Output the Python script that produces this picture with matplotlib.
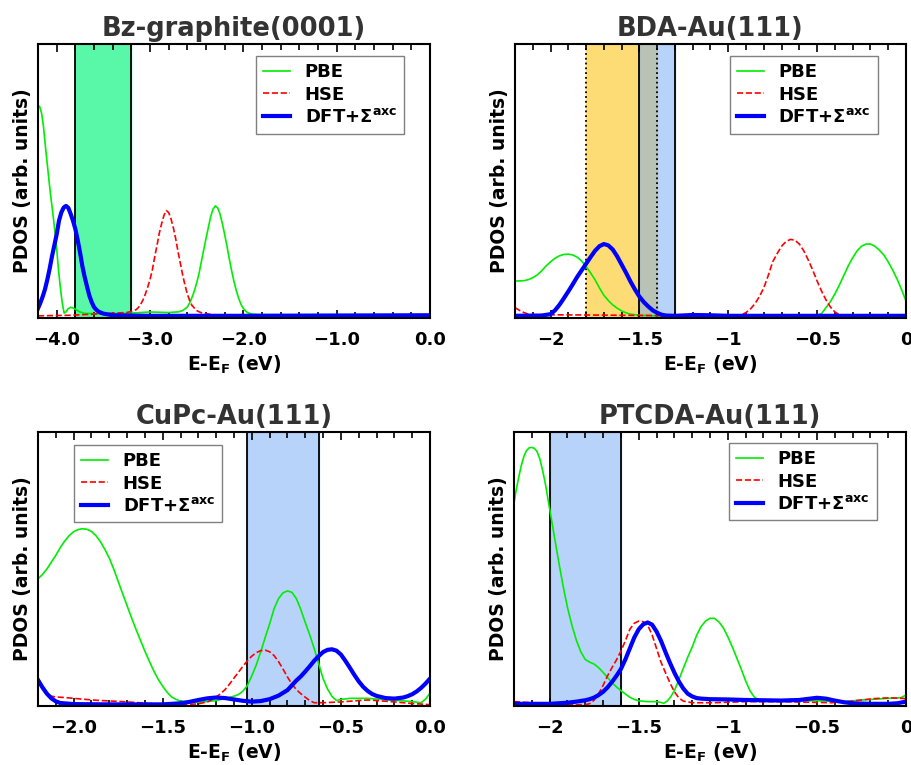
import numpy as np
import matplotlib.pyplot as plt
from matplotlib.ticker import MultipleLocator

plt.rcParams['font.family'] = 'DejaVu Sans'
plt.rcParams['font.weight'] = 'bold'
plt.rcParams['mathtext.default'] = 'bf'

# Bz-graphite(0001)
bz_pbe_x = [-4.2, -4.18, -4.16, -4.14, -4.12, -4.10, -4.08, -4.06, -4.04, -4.02, -4.0, -3.98, -3.96, -3.94,
            -3.92, -3.90, -3.88, -3.85, -3.82, -3.79, -3.75, -3.7, -3.5, -3.2, -3.0, -2.8, -2.72,
            -2.70, -2.65, -2.60, -2.575, -2.55, -2.525, -2.50, -2.475, -2.45, -2.425, -2.40, -2.375, -2.35,
            -2.325, -2.30, -2.275, -2.25, -2.225, -2.20, -2.175, -2.15, -2.125, -2.10, -2.075, -2.05,
            -2.025, -2.00, -1.975, -1.95, -1.90, -1.80, 0.0]
bz_pbe_y = [0.777, 0.77, 0.745, 0.695, 0.625, 0.56, 0.495, 0.435, 0.38, 0.32, 0.255, 0.175, 0.11, 0.055,
            0.018, 0.022, 0.033, 0.039, 0.036, 0.03, 0.022, 0.017, 0.015, 0.018, 0.022, 0.02, 0.022,
            0.022, 0.027, 0.040, 0.055, 0.075, 0.098, 0.128, 0.162, 0.205, 0.248, 0.29, 0.33, 0.37,
            0.397, 0.409, 0.402, 0.38, 0.345, 0.305, 0.262, 0.215, 0.172, 0.133, 0.10, 0.072,
            0.05, 0.035, 0.025, 0.019, 0.014, 0.012, 0.012]
bz_hse_x = [-4.2, -3.85, -3.5, -3.25, -3.2, -3.15, -3.125, -3.10, -3.075, -3.05, -3.025, -3.0, -2.975,
            -2.95, -2.925, -2.90, -2.875, -2.85, -2.825, -2.80, -2.775, -2.75, -2.725, -2.70, -2.675,
            -2.65, -2.625, -2.60, -2.575, -2.55, -2.50, -2.45, -2.35, -2.25, 0.0]
bz_hse_y = [0.008, 0.01, 0.016, 0.02, 0.024, 0.03, 0.038, 0.05, 0.066, 0.087, 0.112, 0.14, 0.175,
            0.222, 0.265, 0.31, 0.345, 0.375, 0.392, 0.385, 0.362, 0.33, 0.29, 0.243, 0.2,
            0.157, 0.12, 0.088, 0.064, 0.046, 0.027, 0.019, 0.013, 0.009, 0.007]
bz_axc_x = [-4.2, -4.175, -4.15, -4.125, -4.10, -4.075, -4.05, -4.025, -4.0, -3.975, -3.95, -3.925, -3.90,
            -3.875, -3.85, -3.825, -3.80, -3.775, -3.75, -3.725, -3.70, -3.675, -3.65, -3.625, -3.60,
            -3.575, -3.55, -3.50, -3.40, -3.0, -2.0, 0.0]
bz_axc_y = [0.035, 0.055, 0.078, 0.105, 0.14, 0.18, 0.225, 0.265, 0.305, 0.355, 0.385, 0.403, 0.409,
            0.402, 0.38, 0.355, 0.325, 0.285, 0.24, 0.19, 0.15, 0.115, 0.082, 0.058, 0.04,
            0.03, 0.023, 0.016, 0.01, 0.008, 0.008, 0.01]

# BDA-Au(111)
bda_pbe_x = [-2.2, -2.15, -2.125, -2.10, -2.075, -2.05, -2.025, -2.0, -1.975, -1.95, -1.925, -1.90, -1.875,
             -1.85, -1.825, -1.80, -1.775, -1.75, -1.725, -1.70, -1.675, -1.65, -1.625, -1.60, -1.575,
             -1.55, -1.50, -1.4, -0.6, -0.5, -0.475, -0.45, -0.425, -0.40, -0.375, -0.35, -0.325, -0.30,
             -0.275, -0.25, -0.225, -0.20, -0.175, -0.15, -0.125, -0.10, -0.075, -0.05, -0.025, 0.0]
bda_pbe_y = [0.135, 0.136, 0.14, 0.147, 0.157, 0.172, 0.19, 0.205, 0.218, 0.227, 0.232, 0.233, 0.23,
             0.222, 0.208, 0.188, 0.165, 0.14, 0.11, 0.083, 0.064, 0.048, 0.036, 0.026, 0.019,
             0.014, 0.01, 0.008, 0.008, 0.01, 0.016, 0.038, 0.06, 0.088, 0.12, 0.155, 0.19, 0.22,
             0.245, 0.262, 0.27, 0.27, 0.262, 0.248, 0.23, 0.205, 0.175, 0.142, 0.104, 0.062]
bda_hse_x = [-2.2, -2.175, -2.15, -2.125, -2.1, -1.8, -1.4, -0.95, -0.925, -0.90, -0.875, -0.85, -0.825,
             -0.80, -0.775, -0.75, -0.725, -0.70, -0.675, -0.65, -0.625, -0.60, -0.575, -0.55, -0.525,
             -0.50, -0.475, -0.45, -0.425, -0.40, -0.375, -0.35, 0.0]
bda_hse_y = [0.038, 0.028, 0.02, 0.014, 0.012, 0.011, 0.009, 0.008, 0.012, 0.02, 0.033, 0.052, 0.078,
             0.11, 0.155, 0.205, 0.235, 0.262, 0.279, 0.287, 0.284, 0.27, 0.245, 0.212, 0.175,
             0.135, 0.098, 0.066, 0.04, 0.022, 0.012, 0.009, 0.008]
bda_axc_x = [-2.2, -2.05, -2.0, -1.975, -1.95, -1.925, -1.90, -1.875, -1.85, -1.825, -1.80, -1.775, -1.75,
             -1.725, -1.70, -1.675, -1.65, -1.625, -1.60, -1.575, -1.55, -1.525, -1.50, -1.475, -1.45,
             -1.425, -1.40, -1.375, -1.35, -1.3, -1.2, -1.1, -1.0, 0.0]
bda_axc_y = [0.008, 0.009, 0.014, 0.028, 0.048, 0.072, 0.097, 0.123, 0.15, 0.174, 0.198, 0.222, 0.245,
             0.262, 0.27, 0.265, 0.25, 0.225, 0.195, 0.165, 0.133, 0.104, 0.078, 0.058, 0.042,
             0.028, 0.019, 0.012, 0.009, 0.008, 0.011, 0.01, 0.008, 0.008]

# CuPc-Au(111)
cupc_pbe_x = [-2.2, -2.175, -2.15, -2.125, -2.10, -2.075, -2.05, -2.025, -2.0, -1.975, -1.95, -1.925, -1.90,
              -1.875, -1.85, -1.825, -1.80, -1.775, -1.75, -1.725, -1.70, -1.675, -1.65, -1.625, -1.60,
              -1.575, -1.55, -1.525, -1.50, -1.475, -1.45, -1.425, -1.40, -1.35, -1.30, -1.25, -1.20,
              -1.15, -1.10, -1.075, -1.05, -1.025, -1.0, -0.975, -0.95, -0.925, -0.90, -0.875, -0.85,
              -0.825, -0.80, -0.775, -0.75, -0.725, -0.70, -0.675, -0.65, -0.625, -0.60, -0.575, -0.55,
              -0.525, -0.50, -0.45, -0.35, -0.25, -0.15, -0.10, -0.05, -0.025, 0.0]
cupc_pbe_y = [0.464, 0.48, 0.5, 0.525, 0.55, 0.578, 0.602, 0.622, 0.636, 0.644, 0.647, 0.645, 0.637,
              0.622, 0.6, 0.572, 0.54, 0.5, 0.455, 0.41, 0.366, 0.322, 0.28, 0.24, 0.2,
              0.163, 0.128, 0.097, 0.072, 0.05, 0.033, 0.024, 0.018, 0.015, 0.014, 0.016, 0.02,
              0.027, 0.036, 0.042, 0.054, 0.075, 0.11, 0.15, 0.198, 0.25, 0.30, 0.355, 0.392,
              0.413, 0.42, 0.415, 0.392, 0.352, 0.305, 0.26, 0.21, 0.155, 0.10, 0.062, 0.035,
              0.02, 0.024, 0.028, 0.028, 0.023, 0.019, 0.016, 0.012, 0.025, 0.047]
cupc_hse_x = [-2.2, -2.175, -2.15, -2.125, -2.10, -2.05, -1.95, -1.85, -1.75, -1.65, -1.55, -1.45, -1.35,
              -1.30, -1.25, -1.225, -1.20, -1.175, -1.15, -1.125, -1.10, -1.075, -1.05, -1.025, -1.0,
              -0.975, -0.95, -0.925, -0.90, -0.875, -0.85, -0.825, -0.80, -0.775, -0.75, -0.725, -0.70,
              -0.675, -0.65, -0.60, -0.5, -0.4, -0.35, -0.3, -0.2, -0.1, 0.0]
cupc_hse_y = [0.089, 0.065, 0.045, 0.036, 0.033, 0.031, 0.025, 0.02, 0.017, 0.013, 0.008, 0.005, 0.006,
              0.008, 0.015, 0.023, 0.033, 0.045, 0.06, 0.08, 0.102, 0.123, 0.145, 0.165, 0.182,
              0.195, 0.202, 0.204, 0.198, 0.184, 0.162, 0.135, 0.106, 0.08, 0.06, 0.045, 0.032,
              0.02, 0.012, 0.012, 0.015, 0.02, 0.022, 0.02, 0.015, 0.009, 0.005]
cupc_axc_x = [-2.2, -2.175, -2.15, -2.125, -2.10, -2.075, -2.0, -1.8, -1.5, -1.40, -1.35, -1.30, -1.25,
              -1.20, -1.15, -1.10, -1.05, -1.0, -0.95, -0.90, -0.85, -0.80, -0.75, -0.725, -0.70,
              -0.675, -0.65, -0.625, -0.60, -0.575, -0.55, -0.525, -0.50, -0.475, -0.45, -0.425, -0.40,
              -0.375, -0.35, -0.325, -0.30, -0.25, -0.20, -0.15, -0.125, -0.10, -0.075, -0.05, -0.025, 0.0]
cupc_axc_y = [0.095, 0.068, 0.045, 0.028, 0.017, 0.011, 0.007, 0.006, 0.006, 0.01, 0.015, 0.022, 0.028,
              0.031, 0.029, 0.024, 0.019, 0.016, 0.018, 0.025, 0.038, 0.058, 0.093, 0.108, 0.126,
              0.145, 0.165, 0.182, 0.197, 0.205, 0.207, 0.202, 0.188, 0.165, 0.14, 0.114, 0.09,
              0.07, 0.055, 0.044, 0.037, 0.029, 0.027, 0.031, 0.036, 0.043, 0.053, 0.066, 0.082, 0.1]

# PTCDA-Au(111)
ptc_pbe_x = [-2.2, -2.19, -2.175, -2.16, -2.145, -2.13, -2.115, -2.10, -2.085, -2.07, -2.055, -2.04, -2.025,
             -2.0, -1.975, -1.95, -1.925, -1.90, -1.875, -1.85, -1.825, -1.80, -1.775, -1.75, -1.725,
             -1.70, -1.675, -1.65, -1.625, -1.60, -1.575, -1.55, -1.525, -1.50, -1.45, -1.40, -1.375,
             -1.36, -1.34, -1.32, -1.30, -1.275, -1.25, -1.225, -1.20, -1.175, -1.15, -1.125, -1.10,
             -1.075, -1.05, -1.025, -1.0, -0.975, -0.95, -0.925, -0.90, -0.875, -0.85, -0.825, -0.70,
             -0.50, -0.35, -0.25, -0.10, -0.03, 0.0]
ptc_pbe_y = [0.74, 0.78, 0.83, 0.875, 0.91, 0.932, 0.942, 0.944, 0.94, 0.928, 0.902, 0.862, 0.815,
             0.72, 0.625, 0.53, 0.44, 0.36, 0.295, 0.24, 0.198, 0.17, 0.16, 0.153, 0.14,
             0.123, 0.104, 0.085, 0.07, 0.056, 0.044, 0.032, 0.024, 0.019, 0.016, 0.016, 0.013,
             0.01, 0.018, 0.034, 0.056, 0.095, 0.137, 0.178, 0.215, 0.258, 0.29, 0.31, 0.32,
             0.32, 0.307, 0.285, 0.253, 0.216, 0.176, 0.135, 0.092, 0.055, 0.032, 0.022, 0.02,
             0.019, 0.016, 0.022, 0.028, 0.03, 0.04]
ptc_hse_x = [-2.2, -2.1, -2.0, -1.85, -1.79, -1.77, -1.75, -1.725, -1.70, -1.675, -1.65, -1.625, -1.60,
             -1.575, -1.55, -1.525, -1.50, -1.475, -1.45, -1.425, -1.40, -1.375, -1.35, -1.325, -1.30,
             -1.275, -1.25, -1.20, -1.077, -0.9, -0.7, -0.42, -0.33, -0.18, -0.09, 0.0]
ptc_hse_y = [0.016, 0.012, 0.008, 0.004, 0.006, 0.01, 0.022, 0.045, 0.075, 0.11, 0.14, 0.168, 0.2,
             0.238, 0.28, 0.302, 0.31, 0.308, 0.295, 0.26, 0.21, 0.16, 0.122, 0.085, 0.052,
             0.03, 0.018, 0.012, 0.012, 0.016, 0.016, 0.012, 0.016, 0.027, 0.03, 0.027]
ptc_axc_x = [-2.2, -2.0, -1.9, -1.85, -1.80, -1.775, -1.75, -1.725, -1.70, -1.675, -1.65, -1.625, -1.60,
             -1.575, -1.55, -1.525, -1.50, -1.475, -1.45, -1.425, -1.40, -1.375, -1.35, -1.325, -1.30,
             -1.275, -1.25, -1.225, -1.20, -1.175, -1.15, -1.10, -1.0, -0.9, -0.8, -0.7, -0.6, -0.55,
             -0.50, -0.45, -0.40, -0.35, -0.30, -0.2, -0.1, -0.05, 0.0]
ptc_axc_y = [0.008, 0.008, 0.012, 0.016, 0.021, 0.025, 0.031, 0.04, 0.052, 0.068, 0.088, 0.11, 0.135,
             0.17, 0.21, 0.25, 0.28, 0.298, 0.305, 0.297, 0.272, 0.238, 0.197, 0.158, 0.122,
             0.09, 0.064, 0.045, 0.035, 0.029, 0.027, 0.025, 0.024, 0.022, 0.021, 0.02, 0.022, 0.026,
             0.03, 0.027, 0.02, 0.014, 0.01, 0.008, 0.008, 0.01, 0.016]

titles = ['Bz-graphite(0001)', 'BDA-Au(111)', 'CuPc-Au(111)', 'PTCDA-Au(111)']
xlims = [(-4.2, 0.0), (-2.2, 0.0), (-2.2, 0.0), (-2.2, 0.0)]
major_ticks = [[-4, -3, -2, -1, 0], [-2, -1.5, -1, -0.5, 0], [-2, -1.5, -1, -0.5, 0], [-2, -1.5, -1, -0.5, 0]]
tick_labels = [['\u22124.0', '\u22123.0', '\u22122.0', '\u22121.0', '0.0'],
               ['\u22122', '\u22121.5', '\u22121', '\u22120.5', '0'],
               ['\u22122.0', '\u22121.5', '\u22121.0', '\u22120.5', '0.0'],
               ['\u22122', '\u22121.5', '\u22121', '\u22120.5', '0']]
minor_step = [0.2, 0.1, 0.1, 0.1]

curves = [(bz_pbe_x, bz_pbe_y, bz_hse_x, bz_hse_y, bz_axc_x, bz_axc_y),
          (bda_pbe_x, bda_pbe_y, bda_hse_x, bda_hse_y, bda_axc_x, bda_axc_y),
          (cupc_pbe_x, cupc_pbe_y, cupc_hse_x, cupc_hse_y, cupc_axc_x, cupc_axc_y),
          (ptc_pbe_x, ptc_pbe_y, ptc_hse_x, ptc_hse_y, ptc_axc_x, ptc_axc_y)]

positions = [[0.0417, 0.5843, 0.4303, 0.3582], [0.5653, 0.5843, 0.4292, 0.3582],
             [0.0417, 0.0771, 0.4303, 0.3582], [0.5642, 0.0771, 0.4303, 0.3582]]
leg_loc = ['upper right', 'upper right', 'upper left', 'upper right']
leg_anchor = [(0.934, 0.956), (0.928, 0.956), (0.092, 0.953), (0.926, 0.96)]

fig = plt.figure(figsize=(9.11, 7.65), dpi=100)
axes = [fig.add_axes(p) for p in positions]

for i, ax in enumerate(axes):
    px, py, hx, hy, ax_x, ax_y = curves[i]
    ax.plot(px, py, color='#00ee00', lw=1.2, label='PBE')
    ax.plot(hx, hy, color='red', lw=1.2, ls='--', label='HSE')
    ax.plot(ax_x, ax_y, color='blue', lw=3, label=r'DFT+$\Sigma^{axc}$')
    ax.set_xlim(*xlims[i])
    ax.set_ylim(0, 1)
    ax.set_yticks([])
    ax.set_xticks(major_ticks[i])
    ax.set_xticklabels(tick_labels[i], fontsize=13, fontweight='bold')
    ax.xaxis.set_minor_locator(MultipleLocator(minor_step[i]))
    ax.tick_params(axis='x', which='both', direction='in', top=True, width=1.2)
    ax.tick_params(axis='x', which='major', length=6, pad=9)
    ax.tick_params(axis='x', which='minor', length=4)
    for s in ax.spines.values():
        s.set_linewidth(1.5)
    ax.set_title(titles[i], fontsize=18.5, fontweight='bold', color='#333333')
    ax.set_xlabel(r'E-E$_F$ (eV)', fontsize=13.5, fontweight='bold')
    ax.set_ylabel('PDOS (arb. units)', fontsize=13.5, fontweight='bold')
    ax.legend(loc=leg_loc[i], bbox_to_anchor=leg_anchor[i], borderaxespad=0,
              prop={'size': 13, 'weight': 'bold'}, fancybox=False, framealpha=1,
              edgecolor='gray', handlelength=1.5, labelspacing=0.25)

# shaded windows
axes[0].axvspan(-3.8, -3.2, color='#58f8a8', zorder=0)
for xv in (-3.8, -3.2):
    axes[0].axvline(xv, color='black', lw=1.3, zorder=0.5)

axes[1].axvspan(-1.8, -1.4, color='#fedc75', zorder=0)
axes[1].axvspan(-1.5, -1.3, color='#73a9f5', alpha=0.5, zorder=0.1)
for xv in (-1.8, -1.4):
    axes[1].axvline(xv, color='black', lw=1.3, ls=':', zorder=0.5)
for xv in (-1.5, -1.3):
    axes[1].axvline(xv, color='black', lw=1.3, zorder=0.5)

axes[2].axvspan(-1.025, -0.625, color='#73a9f5', alpha=0.5, zorder=0)
for xv in (-1.025, -0.625):
    axes[2].axvline(xv, color='black', lw=1.3, zorder=0.5)

axes[3].axvspan(-2.0, -1.6, color='#73a9f5', alpha=0.5, zorder=0)
for xv in (-2.0, -1.6):
    axes[3].axvline(xv, color='black', lw=1.3, zorder=0.5)

fig.savefig('out.png', dpi=100)
